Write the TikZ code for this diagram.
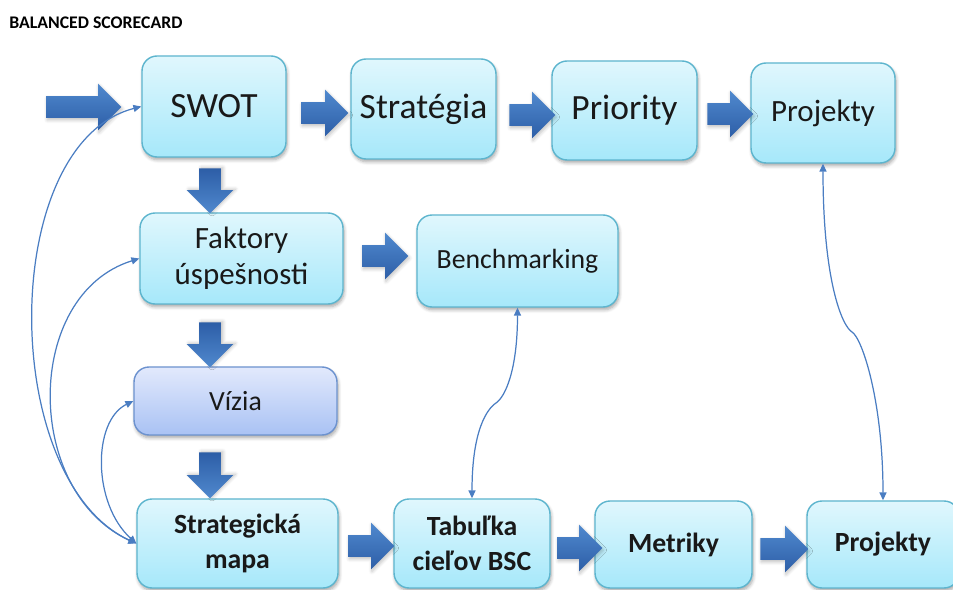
\documentclass[tikz,border=0pt]{standalone}
\usepackage{fontspec}
\setmainfont{Carlito}
\usetikzlibrary{shapes.arrows,arrows.meta,shadows.blur}

\definecolor{boxtop}{HTML}{E0F7FD}
\definecolor{boxbot}{HTML}{A6E8FA}
\definecolor{boxline}{HTML}{5DB5CE}
\definecolor{viztop}{HTML}{E2E9FC}
\definecolor{vizbot}{HTML}{A9C2F4}
\definecolor{vizline}{HTML}{6C92CF}
\definecolor{arrtop}{HTML}{5089CE}
\definecolor{arrbot}{HTML}{2D5EA7}
\definecolor{linkblue}{HTML}{4A7DC2}

\tikzset{
  softshadow/.style={blur shadow={shadow xshift=0.6pt, shadow yshift=-1.6pt,
      shadow blur steps=6, shadow opacity=35}},
  arrowshadow/.style={blur shadow={shadow xshift=0.5pt, shadow yshift=-1.2pt,
      shadow blur steps=5, shadow opacity=25}},
  stagebox/.style={draw=boxline, line width=0.8pt, rounded corners=0.3cm,
      top color=boxtop, bottom color=boxbot, inner sep=0pt, align=center,
      text=black!90, softshadow},
  visionbox/.style={stagebox, draw=vizline, top color=viztop, bottom color=vizbot},
  bigtxt/.style={font=\fontsize{20.2}{24}\selectfont},
  midtxt/.style={font=\fontsize{17.6}{20.2}\selectfont},
  smalltxt/.style={font=\fontsize{15.8}{19.8}\selectfont},
  boldtxt/.style={font=\fontsize{15.8}{19.8}\selectfont\bfseries},
  blockarrow/.style={single arrow, single arrow head extend=0.25cm,
      inner xsep=0pt, inner ysep=0.21cm, draw=none,
      top color=arrtop, bottom color=arrbot, arrowshadow},
  % rotated clockwise: the lighter side ends up on the left and the
  % shadow shift is given in the arrow's own frame
  downarrow/.style={single arrow, single arrow head extend=0.25cm,
      inner xsep=0pt, inner ysep=0.21cm, draw=none, rotate=-90,
      top color=arrbot, bottom color=arrtop,
      blur shadow={shadow xshift=1.2pt, shadow yshift=0.5pt,
      shadow blur steps=5, shadow opacity=25}},
  link/.style={draw=linkblue, line width=0.7pt,
      {Triangle[length=4.5pt,width=4pt]}-{Triangle[length=4.5pt,width=4pt]}},
}

\begin{document}
\begin{tikzpicture}[x=0.02cm, y=-0.02cm]
\useasboundingbox (0,0) rectangle (953,590);

% title
\node[anchor=base west, font=\fontsize{10.1}{12}\selectfont\bfseries, inner sep=0pt]
  (title) at (9,29) {BALANCED SCORECARD};

% top row
\node[stagebox, bigtxt, minimum width=2.88cm, minimum height=2.02cm] (swot)  at (214,106.5) {SWOT};
\node[stagebox, bigtxt, minimum width=2.90cm, minimum height=2.00cm] (strat) at (423.5,109) {Stratégia};
\node[stagebox, bigtxt, minimum width=2.90cm, minimum height=1.98cm] (prio)  at (624.5,110.5) {Priority};
\node[stagebox, midtxt, minimum width=2.88cm, minimum height=2.00cm] (projT) at (823,113) {Projekty};

% left column
\node[stagebox, midtxt, minimum width=4.06cm, minimum height=1.82cm] (fakt)  at (241.5,258.5) {Faktory\\úspešnosti};
\node[stagebox, smalltxt, minimum width=4.02cm, minimum height=1.84cm] (bench) at (517.5,261) {Benchmarking};
\node[visionbox, smalltxt, minimum width=4.06cm, minimum height=1.36cm] (vizia) at (235.5,401) {Vízia};

% bottom row
\node[stagebox, boldtxt, minimum width=4.02cm, minimum height=1.78cm] (mapa)  at (237.5,543.5) {Strategická\\mapa};
\node[stagebox, boldtxt, minimum width=3.12cm, minimum height=1.78cm] (tab)   at (472,543.5) {Tabuľka\\cieľov BSC};
\node[stagebox, boldtxt, minimum width=3.14cm, minimum height=1.74cm] (met)   at (673.5,544.5) {Metriky};
\node[stagebox, boldtxt, minimum width=3.04cm, minimum height=1.74cm] (projB) at (883,544.5) {Projekty};

% block arrows
\node[blockarrow, minimum height=1.50cm] (ain) at (78.5,107) {};
\node[blockarrow, minimum height=0.94cm] (a1) at (319.5,113) {};
\node[blockarrow, minimum height=0.92cm] (a2) at (527,115) {};
\node[blockarrow, minimum height=0.92cm] (a3) at (725,114) {};
\node[downarrow, minimum height=0.90cm] (d1) at (210,185.5) {};
\node[downarrow, minimum height=0.90cm] (d2) at (210,339.5) {};
\node[downarrow, minimum height=0.92cm] (d3) at (210,470) {};
\node[blockarrow, minimum height=0.92cm] (r1) at (380,256) {};
\node[blockarrow, minimum height=0.92cm] (b1) at (366,546) {};
\node[blockarrow, minimum height=0.90cm] (b2) at (574.5,548) {};
\node[blockarrow, minimum height=0.96cm] (b3) at (779,549) {};

% feedback links on the left
\draw[link] (mapa.west) .. controls +(-138,-64) and +(-143,37) .. (swot.west);
\draw[link] (mapa.west) .. controls +(-113,-52) and +(-116,36) .. (fakt.west);
\draw[link] (mapa.west) .. controls +(-44,-40) and +(-41,20) .. (vizia.west);

% vertical links
\coordinate (bkink) at (496,403);
\draw[link] (tab.north) .. controls +(0,-68) and +(-9,6) .. (bkink)
            .. controls +(9,-6) and +(0,63) .. (bench.south);
\coordinate (pkink) at (852,332);
\draw[link] (projB.north) .. controls +(0,-100) and +(10,6) .. (pkink)
            .. controls +(-10,-6) and +(0,117) .. (projT.south);
\end{tikzpicture}
\end{document}
